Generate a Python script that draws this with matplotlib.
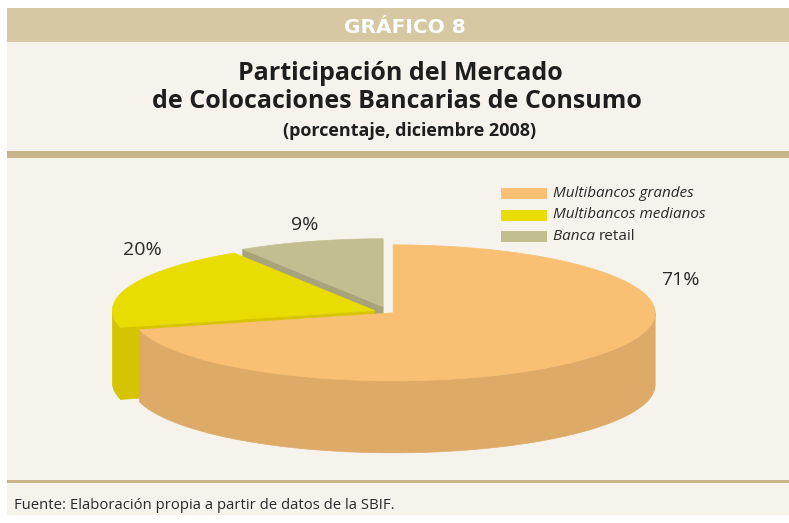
import numpy as np
import matplotlib
matplotlib.use('Agg')
import matplotlib.pyplot as plt
from matplotlib.patches import Polygon, Rectangle

# data
categories = ['Multibancos grandes', 'Multibancos medianos', 'Banca retail']
shares = [71, 20, 9]
pct_labels = ['71%', '20%', '9%']

# styling
top_colors = ['#F9C073', '#E9DC00', '#C3BE8F']
side_colors = ['#DDAA68', '#D6C400', '#A8A37A']
explode = [0.02, 0.06, 0.08]
label_ang = [24, 135, 104]
label_rad = [1.2, 1.25, 1.24]

W, H = 789, 523
bg = '#F6F3EC'
tan = '#D5C8A2'
rule = '#C8B58A'
ink = '#1E1E1E'
font = ['Open Sans', 'DejaVu Sans']

fig = plt.figure(figsize=(W / 100, H / 100), dpi=100)
fig.patch.set_facecolor('white')
ax = fig.add_axes([0, 0, 1, 1])
ax.set_xlim(0, W)
ax.set_ylim(H, 0)
ax.axis('off')

# panel background, header band and rules
ax.add_patch(Rectangle((7, 8), W - 7, 507, color=bg, lw=0))
ax.add_patch(Rectangle((7, 8), W - 7, 34, color=tan, lw=0))
ax.add_patch(Rectangle((7, 151), W - 7, 7, color=rule, lw=0))
ax.add_patch(Rectangle((7, 480), W - 7, 3, color=rule, lw=0))

ax.text(405, 33, 'GRÁFICO 8', color='white', fontsize=14.5, fontweight='bold',
        family='DejaVu Sans', ha='center', va='baseline')
ax.text(400, 80, 'Participación del Mercado', color=ink, fontsize=18,
        fontweight='bold', family=font, ha='center', va='baseline')
ax.text(397, 108, 'de Colocaciones Bancarias de Consumo', color=ink, fontsize=18,
        fontweight='bold', family=font, ha='center', va='baseline')
ax.text(410, 136, '(porcentaje, diciembre 2008)', color=ink, fontsize=13,
        fontweight='bold', family=font, ha='center', va='baseline')
ax.text(14, 509, 'Fuente: Elaboración propia a partir de datos de la SBIF.',
        color='#2A2A2A', fontsize=10.7, family=font, ha='left', va='baseline')

# 3d pie
cx, cy = 389, 312
rx, ry = 262, 68
depth = 72


def pt(c, ang, z=0):
    a = np.radians(ang)
    return c[0] + rx * np.cos(a), c[1] - ry * np.sin(a) + z


def arc(c, a0, a1, z=0):
    angs = np.linspace(a0, a1, 120)
    return [pt(c, a, z) for a in angs]


slices = []
start = 90.0
for i, s in enumerate(shares):
    hi = start
    lo = start - s * 3.6
    mid = np.radians((lo + hi) / 2)
    c = (cx + explode[i] * rx * np.cos(mid), cy - explode[i] * ry * np.sin(mid))
    slices.append((i, lo, hi, c))
    start = lo

for i, lo, hi, c in reversed(slices):
    # visible radial faces
    for a, n in ((hi, hi + 90), (lo, lo - 90)):
        if np.sin(np.radians(n)) < -1e-6:
            e0 = pt(c, a)
            e1 = pt(c, a, depth)
            face = [c, e0, e1, (c[0], c[1] + depth)]
            ax.add_patch(Polygon(face, closed=True, fc=side_colors[i], ec=side_colors[i], lw=0.5))
    # outer wall, front half only
    for k in (-1, 0, 1):
        a = max(lo, 180 + 360 * k)
        b = min(hi, 360 + 360 * k)
        if a < b:
            wall = arc(c, a, b) + arc(c, b, a, depth)
            ax.add_patch(Polygon(wall, closed=True, fc=side_colors[i], ec=side_colors[i], lw=0.5))
    top = [c] + arc(c, lo, hi)
    ax.add_patch(Polygon(top, closed=True, fc=top_colors[i], ec=top_colors[i], lw=0.5))

for i, lo, hi, c in slices:
    a = np.radians(label_ang[i])
    x = c[0] + label_rad[i] * rx * np.cos(a)
    y = c[1] - label_rad[i] * ry * np.sin(a)
    ax.text(x, y, pct_labels[i], color='#2A2A2A', fontsize=14, family=font,
            ha='center', va='center')

# legend
for i, name in enumerate(categories):
    y = 193.5 + i * 21.5
    ax.add_patch(Rectangle((501, y - 5.5), 46, 11, color=top_colors[i], lw=0))
    if name.startswith('Banca'):
        first, rest = name.split(' ', 1)
        t = ax.text(553, y, first + ' ', color='#2A2A2A', fontsize=11, style='italic',
                    family=font, ha='left', va='center')
        ax.annotate(rest, xy=(1, 0.5), xycoords=t, color='#2A2A2A', fontsize=11,
                    family=font, ha='left', va='center')
    else:
        ax.text(553, y, name, color='#2A2A2A', fontsize=11, style='italic',
                family=font, ha='left', va='center')

fig.savefig('out.png', dpi=100, facecolor='white')
